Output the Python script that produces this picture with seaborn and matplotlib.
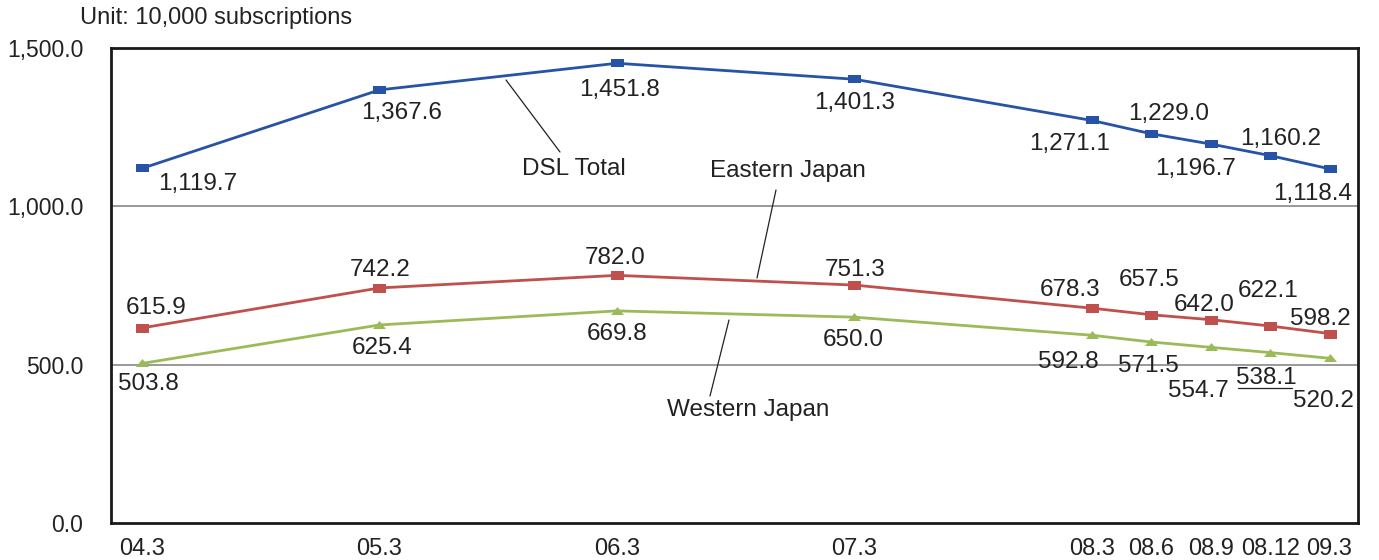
import matplotlib
matplotlib.use("Agg")
import matplotlib.pyplot as plt
import seaborn as sns
import pandas as pd
import numpy as np

# Period labels and their positions in quarters from 04.3
periods = ["04.3", "05.3", "06.3", "07.3", "08.3", "08.6", "08.9", "08.12", "09.3"]
quarter_pos = [0, 4, 8, 12, 16, 17, 18, 19, 20]

dsl_total = [1119.7, 1367.6, 1451.8, 1401.3, 1271.1, 1229.0, 1196.7, 1160.2, 1118.4]
eastern = [615.9, 742.2, 782.0, 751.3, 678.3, 657.5, 642.0, 622.1, 598.2]
western = [503.8, 625.4, 669.8, 650.0, 592.8, 571.5, 554.7, 538.1, 520.2]

y_ticks = [0, 500, 1000, 1500]

# label offsets in pixels (dx, dy up) relative to each point
dsl_off = [(56, -14), (22, -21), (3, -25), (0, -22), (-22, -22), (17, 22), (-15, -23), (10, 19), (-17, -23)]
east_off = [(14, 22), (1, 20), (-2, 19), (1, 17), (-22, 20), (-2, 37), (-7, 17), (-2, 37), (-9, 17)]
west_off = [(6, -19), (3, -21), (0, -21), (-1, -21), (-24, -25), (-3, -22), (-12, -42), (-4, -23), (-6, -41)]

sns.set_style("white")
plt.rcParams["font.family"] = ["Liberation Sans", "DejaVu Sans"]

fig = plt.figure(figsize=(13.79, 5.6), dpi=100)
ax = fig.add_axes([0.0805, 0.0661, 0.9043, 0.8482])

df = pd.DataFrame({
    "q": quarter_pos * 3,
    "value": dsl_total + eastern + western,
    "series": ["DSL Total"] * 9 + ["Eastern Japan"] * 9 + ["Western Japan"] * 9,
})

colors = {"DSL Total": "#2653a6", "Eastern Japan": "#c0504d", "Western Japan": "#9bbb59"}
# flat, wide marker shapes
rect_blue = [(-6.5, -4), (6.5, -4), (6.5, 4), (-6.5, 4), (-6.5, -4)]
rect_red = [(-6.5, -4.5), (6.5, -4.5), (6.5, 4.5), (-6.5, 4.5), (-6.5, -4.5)]
tri_green = [(-6.5, -3.5), (6.5, -3.5), (0, 4.5), (-6.5, -3.5)]
markers = {"DSL Total": rect_blue, "Eastern Japan": rect_red, "Western Japan": tri_green}
sizes = {"DSL Total": 13 * 0.72, "Eastern Japan": 13 * 0.72, "Western Japan": 13 * 0.72}

for name, sub in df.groupby("series", sort=False):
    sns.lineplot(data=sub, x="q", y="value", ax=ax, color=colors[name],
                 marker=markers[name], markersize=sizes[name],
                 markeredgewidth=0, linewidth=2, legend=False, zorder=3)

label_fs = 17.5
for vals, offs in [(dsl_total, dsl_off), (eastern, east_off), (western, west_off)]:
    for q, v, (dx, dy) in zip(quarter_pos, vals, offs):
        ax.annotate(f"{v:,.1f}", xy=(q, v), xytext=(dx, dy - 2), textcoords="offset pixels",
                    ha="center", va="center", fontsize=label_fs, color="#222222")

ax.set_xlim(-0.52, 20.48)
ax.set_ylim(0, 1500)
ax.set_xticks(quarter_pos)
ax.set_xticklabels(periods, fontsize=17, color="#222222")
ax.set_xticks(np.arange(0, 20.5, 0.5), minor=True)
ax.tick_params(axis="x", which="both", direction="in", length=5, width=1.2, color="#222222", pad=11)
ax.set_yticks(y_ticks)
ax.set_yticklabels([f"{t:,.1f}" for t in y_ticks], fontsize=16.5, color="#222222")
ax.tick_params(axis="y", direction="out", length=4, width=1, color="#555555", pad=16)
ax.set_xlabel("")
ax.set_ylabel("")

for yv in [500, 1000]:
    ax.axhline(yv, color="#888888", linewidth=1.2, zorder=1)

for s in ax.spines.values():
    s.set_color("#1a1a1a")
    s.set_linewidth(2)
    s.set_visible(True)

# series names with leader lines
def px_to_data(px, py):
    return ax.transData.inverted().transform(fig.transFigure.transform((px / 1379, 1 - py / 560)))

def leader(text, tpos, p0, p1):
    tx, ty = px_to_data(*tpos)
    ax.text(tx, ty, text, ha="center", va="center", fontsize=label_fs, color="#222222")
    a = px_to_data(*p0)
    b = px_to_data(*p1)
    ax.plot([a[0], b[0]], [a[1], b[1]], color="#222222", linewidth=0.9, zorder=2)

leader("DSL Total", (574, 169), (506, 80), (560, 152))
leader("Eastern Japan", (788, 171), (776, 190), (757, 278))
leader("Western Japan", (748, 410), (729, 320), (710, 396))
a = px_to_data(1238, 388)
b = px_to_data(1292, 388)
ax.plot([a[0], b[0]], [a[1], b[1]], color="#222222", linewidth=0.9)

fig.text(80 / 1379, 1 - 18 / 560, "Unit: 10,000 subscriptions", ha="left", va="center",
         fontsize=17, color="#222222")

fig.savefig("out.png", dpi=100)
